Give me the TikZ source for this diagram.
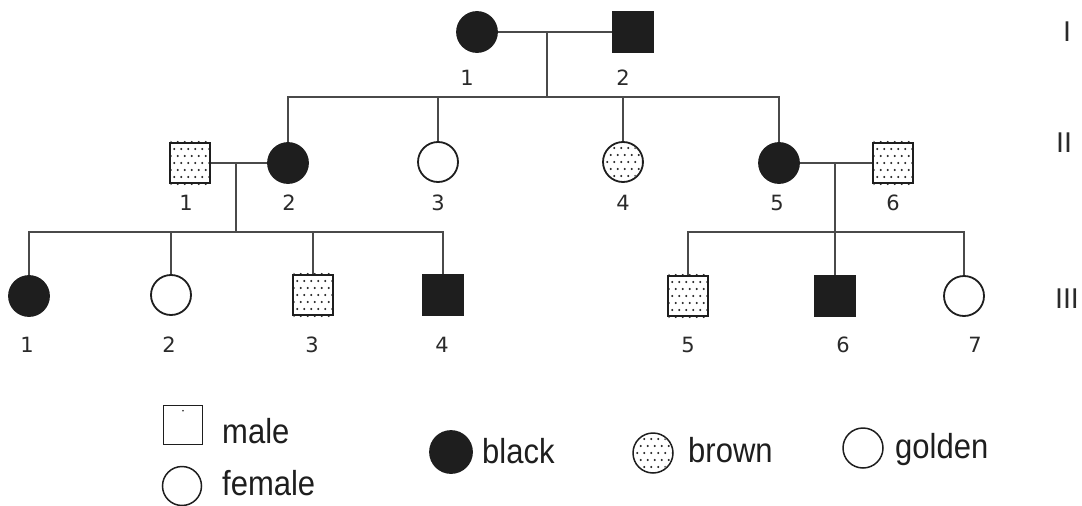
\documentclass[tikz,border=0pt]{standalone}
\usepackage{fontspec}
\newfontfamily\numfont{DejaVu Sans}
\newfontfamily\legfont{Liberation Sans}
\definecolor{ink}{HTML}{1E1E1E}
\definecolor{linegrey}{HTML}{4A4A4A}
\definecolor{numgrey}{HTML}{2A2A2A}
\newcommand\stipplegrid[1]{%
  \foreach \j [evaluate=\j as \off using {mod(\j+10,2)*3.5}] in {-3,...,3}{%
    \foreach \i in {-3,...,3}{%
      \fill[ink,shift={(#1.center)}] (\i*7+\off-1.75,\j*7) circle (1.1);}}}
\newcommand\stipplecirc[1]{\begin{scope}\clip (#1.center) circle (18.5);\stipplegrid{#1}\end{scope}}
\newcommand\stipplesq[1]{\begin{scope}\clip ([shift={(1.5,-1.5)}]#1.north west) rectangle ([shift={(-1.5,1.5)}]#1.south east);\stipplegrid{#1}\end{scope}}
\begin{document}
\begin{tikzpicture}[x=1pt,y=-1pt,
  fem/.style={circle,draw=ink,line width=1.8pt,minimum size=40pt,inner sep=0pt,fill=white},
  mal/.style={rectangle,draw=ink,line width=1.8pt,minimum size=40pt,inner sep=0pt,fill=white},
  aff/.style={fill=ink},
  conn/.style={draw=linegrey,line width=1.7pt},
  num/.style={font=\numfont\fontsize{21}{21}\selectfont,text=numgrey,inner sep=0pt},
  gen/.style={font=\numfont\fontsize{27}{27}\selectfont,text=numgrey,inner sep=0pt},
  leg/.style={font=\legfont\fontsize{31}{31}\selectfont,text=ink,inner sep=0pt,anchor=base west},
]
\useasboundingbox (0,0) rectangle (1082,506);
% ---------- Generation I
\node[fem,aff] (I1) at (477,32) {};
\node[mal,aff] (I2) at (633,32) {};
\coordinate (m1) at (547,32);
\coordinate (s1) at (547,97);
% ---------- Generation II
\node[mal] (II1) at (190,163) {};
\node[fem,aff] (II2) at (288,163) {};
\node[fem] (II3) at (438,162) {};
\node[fem] (II4) at (623,162) {};
\node[fem,aff] (II5) at (779,163) {};
\node[mal] (II6) at (893,163) {};
\stipplesq{II1}
\stipplecirc{II4}
\stipplesq{II6}
\coordinate (m2) at (236,163);
\coordinate (s2) at (236,232);
\coordinate (m3) at (835,163);
\coordinate (s3) at (835,232);
% ---------- Generation III
\node[fem,aff] (III1) at (29,296) {};
\node[fem] (III2) at (171,295) {};
\node[mal] (III3) at (313,295) {};
\node[mal,aff] (III4) at (443,295) {};
\node[mal] (III5) at (688,296) {};
\node[mal,aff] (III6) at (835,296) {};
\node[fem] (III7) at (964,296) {};
\stipplesq{III3}
\stipplesq{III5}
% ---------- connectors
\draw[conn] (I1.east) -- (I2.west);
\draw[conn] (m1) -- (s1);
\draw[conn] (II2.north) |- (s1) -| (II5.north);
\draw[conn] (II3.north) -- (II3.north |- s1);
\draw[conn] (II4.north) -- (II4.north |- s1);
\draw[conn] (II1.east) -- (II2.west);
\draw[conn] (m2) -- (s2);
\draw[conn] (III1.north) |- (s2) -| (III4.north);
\draw[conn] (III2.north) -- (III2.north |- s2);
\draw[conn] (III3.north) -- (III3.north |- s2);
\draw[conn] (II5.east) -- (II6.west);
\draw[conn] (m3) -- (III6.north);
\draw[conn] (III5.north) |- (s3) -| (III7.north);
% ---------- labels
\node[num] (lI1) at (467,78) {1};
\node[num] (lI2) at (623,78) {2};
\node[num] (lII1) at (186,203) {1};
\node[num] (lII2) at (289,203) {2};
\node[num] (lII3) at (438,203) {3};
\node[num] (lII4) at (623,203) {4};
\node[num] (lII5) at (777,203) {5};
\node[num] (lII6) at (893,203) {6};
\node[num] (lIII1) at (27,345) {1};
\node[num] (lIII2) at (169,345) {2};
\node[num] (lIII3) at (312,345) {3};
\node[num] (lIII4) at (442,345) {4};
\node[num] (lIII5) at (688,345) {5};
\node[num] (lIII6) at (843,345) {6};
\node[num] (lIII7) at (975,345) {7};
\node[gen] (gI) at (1067,32) {I};
\node[gen] (gII) at (1064,143) {II};
\node[gen] (gIII) at (1067,299) {III};
% ---------- legend
\node[mal,line width=1.5pt,minimum size=39pt] (Lm) at (183,425) {};
\fill[ink] ([yshift=-6pt]Lm.north) circle (0.8);
\node[leg] (Lmt) at (222,443) {\scalebox{1}[1.12]{male}};
\node[fem,line width=1.5pt,minimum size=39pt] (Lf) at (182,486) {};
\node[leg] (Lft) at (222,495) {\scalebox{1}[1.12]{female}};
\node[fem,aff,minimum width=41pt,minimum height=42pt] (Lb) at (451,452) {};
\node[leg] (Lbt) at (482,463) {\scalebox{1}[1.12]{black}};
\node[fem,line width=1.5pt,minimum size=40pt] (Lbr) at (653,453) {};
\stipplecirc{Lbr}
\node[leg] (Lbrt) at (688,462) {\scalebox{1}[1.12]{brown}};
\node[fem,line width=1.5pt,minimum size=40pt] (Lg) at (863,448) {};
\node[leg] (Lgt) at (895,458) {\scalebox{1}[1.12]{golden}};
\end{tikzpicture}
\end{document}
